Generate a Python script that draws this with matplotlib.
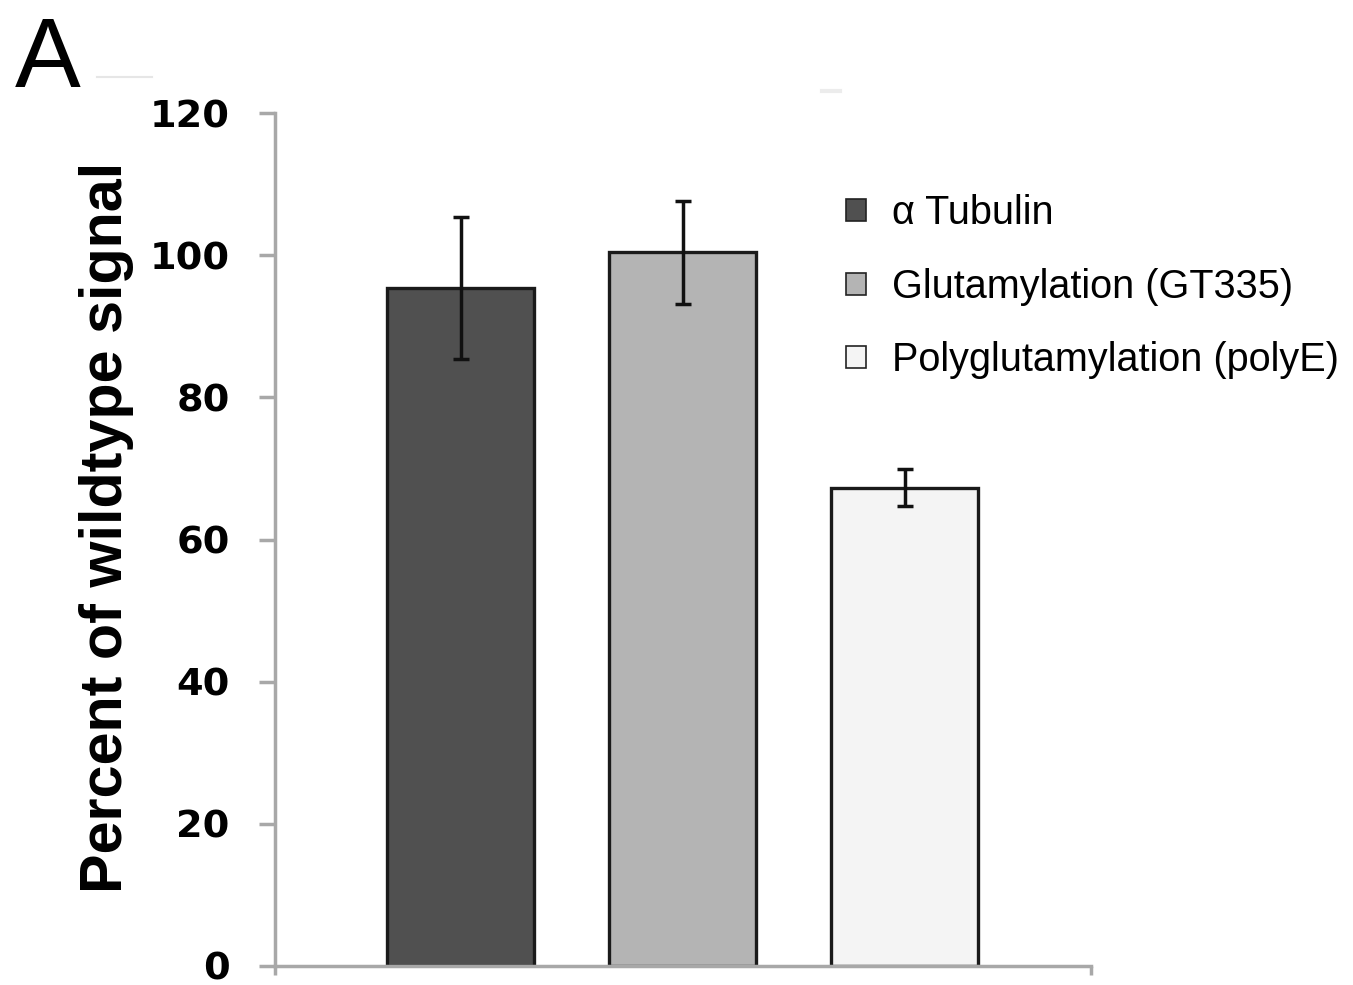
import matplotlib
matplotlib.use("Agg")
import matplotlib.pyplot as plt
from matplotlib.patches import Patch
from matplotlib.lines import Line2D

series = ["\u03b1 Tubulin", "Glutamylation (GT335)", "Polyglutamylation (polyE)"]
values = [95.4, 100.4, 67.3]
errors = [10.0, 7.2, 2.6]
colors = ["#505050", "#b4b4b4", "#f4f4f4"]
yticks = [0, 20, 40, 60, 80, 100, 120]

W, H = 1353, 985
fig = plt.figure(figsize=(W / 100, H / 100), dpi=100)
ax = fig.add_axes([275 / W, 1 - 966 / H, (1091 - 275) / W, (966 - 113) / H])

positions = list(range(len(values)))
ax.bar(positions, values, width=0.662, color=colors, edgecolor="#1a1a1a",
       linewidth=2.4, zorder=2)
ax.errorbar(positions, values, yerr=errors, fmt="none", ecolor="#111111",
            elinewidth=2.5, capsize=6, capthick=2.5, zorder=3)

ax.set_ylim(0, 120)
ax.set_xlim(-0.836, 2.84)
ax.set_yticks(yticks)
ax.set_yticklabels([str(t) for t in yticks], fontfamily="DejaVu Sans",
                   fontweight="bold", fontsize=27.5)
ax.set_xticks([-0.836, 2.84])
ax.set_xticklabels([])

spine_c = "#a8a8a8"
for s in ["top", "right"]:
    ax.spines[s].set_visible(False)
for s in ["left", "bottom"]:
    ax.spines[s].set_color(spine_c)
    ax.spines[s].set_linewidth(2.5)
ax.tick_params(axis="y", direction="out", length=11.5, width=2.5,
               color=spine_c, pad=21)
ax.tick_params(axis="x", direction="out", length=6.5, width=2.5,
               color=spine_c)

fig.text(122 / W, 1 - 527.5 / H, "Percent of wildtype signal", rotation=90,
         rotation_mode="anchor", ha="center", va="baseline",
         fontfamily="Liberation Sans", fontweight="bold", fontsize=42.7)

fig.text(15 / W, 1 - 87 / H, "A", ha="left", va="baseline",
         fontfamily="Liberation Sans", fontsize=71)

handles = [Patch(facecolor=c, edgecolor="#222222", linewidth=1.2) for c in colors]
leg = ax.legend(handles, series, loc="upper left",
                bbox_to_anchor=(846 / W, 1 - 194 / H),
                bbox_transform=fig.transFigure, frameon=False,
                prop={"family": "Liberation Sans", "size": 28.5},
                handlelength=0.5, handleheight=0.48, handletextpad=0.65,
                labelspacing=0.9, borderpad=0, borderaxespad=0)

fig.add_artist(Line2D([97 / W, 152 / W], [1 - 77 / H, 1 - 77 / H],
                      color="#e6e6e6", linewidth=1.5))
fig.add_artist(Line2D([822 / W, 840 / W], [1 - 91 / H, 1 - 91 / H],
                      color="#ececec", linewidth=3))

fig.savefig("out.png", dpi=100)
